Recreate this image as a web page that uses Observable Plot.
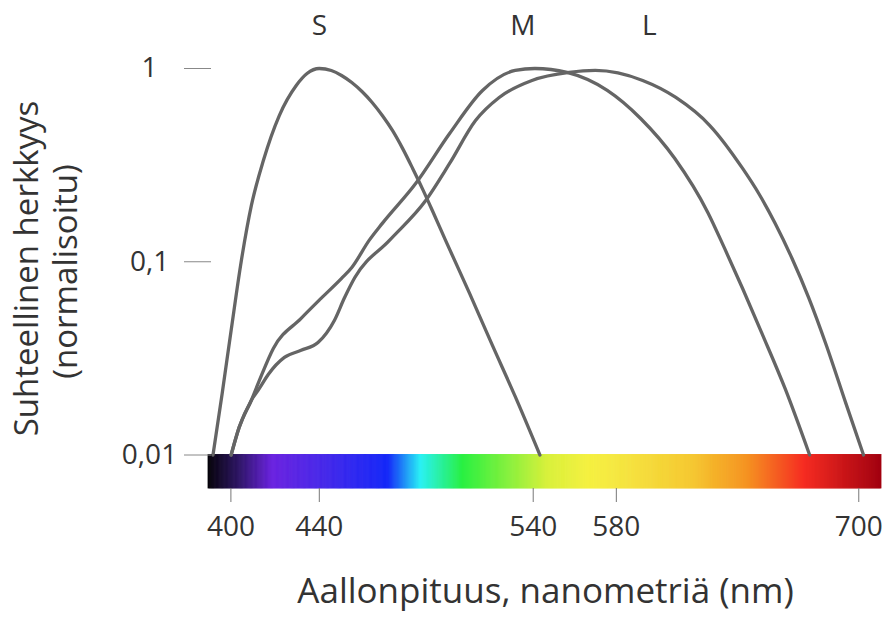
<!DOCTYPE html>
<html>
<head>
<meta charset="utf-8">
<script src="https://cdn.jsdelivr.net/npm/d3@7"></script>
<script src="https://cdn.jsdelivr.net/npm/@observablehq/plot@0.6"></script>
<style>
  body { margin: 0; background: #fff; }
</style>
</head>
<body>
<div id="chart"></div>
<script>
// Tick values and labels
const xTicks = [400, 440, 540, 580, 700];
const yTicks = [0.01, 0.1, 1];
const yTickLabels = ["0,01", "0,1", "1"];

// Cone labels
const coneNames = ["S", "M", "L"];
const coneLabelNm = [440, 535, 596];

// S cone (wavelength nm, normalised sensitivity)
const sNm  = [392, 396.1, 400.1, 404.7, 409.2, 414.6, 421.8, 429.5, 434.4, 440, 445.5, 450.2, 454.9, 459.6, 464.3, 469, 473.7, 478.4, 483.1, 487.8, 492.5, 498.5, 509.8, 520.6, 531.4, 543.2];
const sVal = [0.01, 0.0208, 0.0441, 0.1016, 0.1956, 0.3342, 0.571, 0.817, 0.942, 1.0, 0.9765, 0.92, 0.846, 0.76, 0.667, 0.571, 0.478, 0.386, 0.304, 0.237, 0.182, 0.129, 0.0686, 0.0369, 0.0201, 0.01];

// M cone
const mNm  = [400.1, 403.7, 409.2, 412.8, 419.1, 431.7, 440.8, 450.2, 454.9, 462.9, 469, 484.5, 500.4, 515.9, 531.4, 540.8, 556.2, 575.6, 591.8, 608.5, 624.7, 633, 641.9, 651.7, 663, 675.3];
const mVal = [0.01, 0.0139, 0.0192, 0.0243, 0.0356, 0.0509, 0.0646, 0.082, 0.0934, 0.129, 0.158, 0.254, 0.461, 0.77, 0.977, 1.0, 0.954, 0.77, 0.551, 0.342, 0.18, 0.1172, 0.0727, 0.0421, 0.0221, 0.01];

// L cone
const lNm  = [400.1, 403.7, 409.2, 412.8, 416.8, 424.1, 431.7, 439.4, 446.9, 451.6, 456.3, 472.3, 489.2, 500.4, 512.6, 523.8, 539.4, 557.2, 569.8, 592.8, 609, 625.7, 641.9, 650.2, 658.1, 666.5, 674.8, 683.7, 693.5, 702.4];
const lVal = [0.01, 0.0139, 0.0192, 0.0221, 0.0261, 0.032, 0.0348, 0.0382, 0.0497, 0.0653, 0.0829, 0.129, 0.2075, 0.3226, 0.538, 0.708, 0.867, 0.954, 0.977, 0.867, 0.708, 0.507, 0.304, 0.2229, 0.1578, 0.104, 0.0653, 0.0369, 0.0185, 0.01];

// Spectrum colour stops
const specNm    = [390, 404, 419, 440, 472, 487, 507, 547, 567, 582, 617, 645, 673, 712];
const specColor = ["#050308", "#2e1566", "#6a22e0", "#4a28e8", "#1428f8", "#28f0f5", "#28f040", "#d8f03a", "#f5f040", "#f5e640", "#f5c830", "#f59020", "#f52a20", "#a0000f"];

const yMin = 0.00671;
const toRows = (nm, v) => nm.map((d, i) => ({nm: d, v: v[i]}));
const spectrumSamples = d3.range(390, 711.5, 0.5);

const lineStyle = {x: "nm", y: "v", stroke: "#656565", strokeWidth: 3.3, curve: "monotone-x"};

const chart = Plot.plot({
  width: 886,
  height: 623,
  marginLeft: 208,
  marginRight: 4,
  marginTop: 68,
  marginBottom: 135,
  style: {fontFamily: "'Open Sans', sans-serif", fontSize: "28px", color: "#333", background: "#fff"},
  x: {type: "pow", exponent: 0.786, domain: [390, 712]},
  y: {type: "log", domain: [yMin, 1]},
  color: {type: "linear", domain: specNm, range: specColor},
  marks: [
    Plot.rect(spectrumSamples, {x1: d => d, x2: d => d + 0.5, y1: yMin, y2: 0.01, fill: d => d + 0.25, stroke: d => d + 0.25, strokeWidth: 0.8}),
    Plot.axisX(xTicks, {tickSize: 14, tickPadding: 14, stroke: "#777", fill: "#333", fontSize: 28, label: null}),
    Plot.axisY(yTicks, {tickSize: 27, tickPadding: 35, dx: 3, textAnchor: "middle", tickFormat: d => yTickLabels[yTicks.indexOf(d)], stroke: "#888", fill: "#333", fontSize: 28, label: null}),
    Plot.line(toRows(sNm, sVal), lineStyle),
    Plot.line(toRows(mNm, mVal), lineStyle),
    Plot.line(toRows(lNm, lVal), lineStyle),
    Plot.text(coneNames, {x: (d, i) => coneLabelNm[i], text: d => d, frameAnchor: "top", dy: -53, fontSize: 28, fill: "#333"}),
    Plot.text(["Aallonpituus, nanometriä (nm)"], {frameAnchor: "bottom", dy: 114, fontSize: 35, fill: "#333"}),
    Plot.text(["Suhteellinen herkkyys"], {frameAnchor: "left", textAnchor: "middle", dx: -181, dy: -10, rotate: -90, fontSize: 33, fill: "#333"}),
    Plot.text(["(normalisoitu)"], {frameAnchor: "left", textAnchor: "middle", dx: -142, dy: -7, rotate: -90, fontSize: 33, fill: "#333"})
  ]
});
document.getElementById("chart").appendChild(chart);
</script>
</body>
</html>
